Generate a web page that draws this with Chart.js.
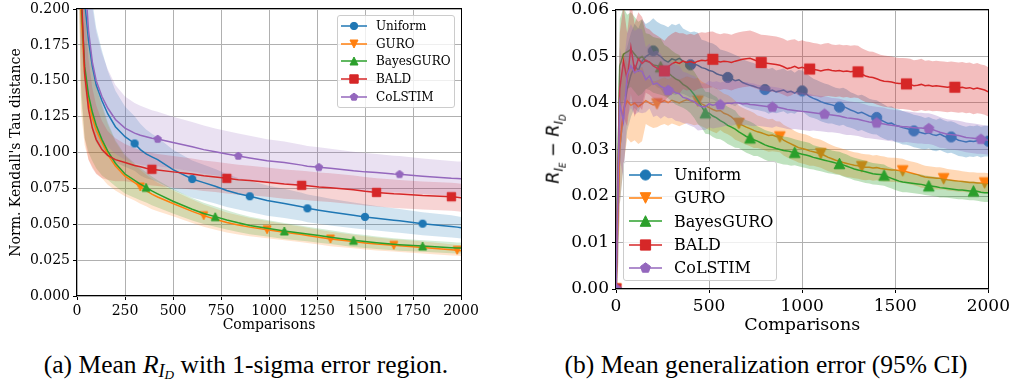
<!DOCTYPE html>
<html>
<head>
<meta charset="utf-8">
<script src="https://cdn.jsdelivr.net/npm/chart.js@4.4.0/dist/chart.umd.min.js"></script>
<style>
  body { margin: 0; background: #fff; width: 1013px; height: 381px; overflow: hidden; position: relative; font-family: 'DejaVu Serif', serif; }
  canvas.plot { position: absolute; }
  .legend { position: absolute; background: rgba(255,255,255,0.8); border: 1px solid #cccccc; border-radius: 3px; box-sizing: border-box; }
  .legend .row { display: flex; align-items: center; white-space: nowrap; }
  .legend canvas { display: block; }
  .caption { position: absolute; top: 351px; font-family: 'Liberation Serif', 'Times New Roman', serif; font-size: 25.5px; line-height: 28px; text-align: center; white-space: nowrap; }
  .caption .s1 { font-size: 72%; vertical-align: -0.2em; }
  .caption .s1 .s1 { vertical-align: -0.15em; }
  .ytitle { position: absolute; font-family: 'DejaVu Sans', sans-serif; font-style: italic; font-size: 17.5px; white-space: nowrap; transform: translate(-50%, -50%) rotate(-90deg); }
  .ytitle .s1 { font-size: 70%; vertical-align: -0.32em; }
</style>
</head>
<body>
<canvas id="left" class="plot" width="490" height="355" style="left:0px;top:-10px;width:490px;height:355px"></canvas>
<canvas id="right" class="plot" width="483" height="355" style="left:530px;top:-10px;width:483px;height:355px"></canvas>
<div id="leftLegend" class="legend" style="left:337px;top:15px;width:118px;height:93px;padding-top:1px"></div>
<div id="rightLegend" class="legend" style="left:623px;top:161px;width:154px;height:120px;padding-top:1px"></div>
<div class="ytitle" style="left:555px;top:149px">R<span class="s1">I<span class="s1">E</span></span> − R<span class="s1">I<span class="s1">D</span></span></div>
<div class="caption" style="left:0px;width:492px">(a) Mean <i>R</i><span class="s1"><i>I</i><span class="s1"><i>D</i></span></span> with 1-sigma error region.</div>
<div class="caption" style="left:520px;width:492px">(b) Mean generalization error (95% CI)</div>
<script>
const names = ['Uniform', 'GURO', 'BayesGURO', 'BALD', 'CoLSTIM'];
const colors = ['#1f77b4', '#ff7f0e', '#2ca02c', '#d62728', '#9467bd'];
const rgb = ['31,119,180', '255,127,14', '44,160,44', '214,39,40', '148,103,189'];
const shapes = ['circle', 'down', 'up', 'square', 'pentagon'];

// (a) normalized Kendall tau distance, mean and 1-sigma
const kendallX = [0,20,40,60,80,100,130,160,200,250,300,330,360,390,420,500,600,660,720,780,840,900,990,1080,1170,1200,1260,1320,1440,1500,1560,1650,1680,1800,1950,1980,2000];
const kendallUniform = [0.40,0.26,0.205,0.178,0.160,0.147,0.136,0.127,0.118,0.111,0.1063,0.102,0.099,0.097,0.095,0.088,0.0815,0.079,0.0765,0.0735,0.0712,0.0695,0.0665,0.0645,0.0622,0.0611,0.0598,0.0585,0.0562,0.0551,0.0542,0.0528,0.0524,0.0504,0.0485,0.048,0.0476];
const kendallGuro = [0.40,0.20,0.155,0.135,0.124,0.1155,0.107,0.0985,0.0905,0.0835,0.079,0.076,0.0735,0.071,0.069,0.0645,0.059,0.056,0.0535,0.0512,0.0495,0.048,0.0462,0.0445,0.0428,0.0422,0.041,0.0397,0.038,0.037,0.0362,0.0353,0.035,0.0338,0.0322,0.0318,0.0316];
const kendallBayesGuro = [0.40,0.21,0.16,0.14,0.128,0.119,0.109,0.101,0.0925,0.085,0.0805,0.078,0.0757,0.0732,0.0712,0.066,0.0605,0.0575,0.0553,0.053,0.051,0.0492,0.0472,0.0453,0.0437,0.0432,0.0421,0.041,0.0388,0.038,0.0371,0.036,0.0357,0.0348,0.0337,0.0335,0.0334];
const kendallBald = [0.40,0.22,0.155,0.13,0.117,0.109,0.102,0.098,0.095,0.093,0.091,0.090,0.089,0.0883,0.0878,0.0865,0.085,0.0838,0.083,0.082,0.081,0.0805,0.0793,0.078,0.0771,0.0768,0.076,0.0755,0.074,0.073,0.0722,0.0712,0.071,0.070,0.0692,0.0688,0.0685];
const kendallColstim = [0.40,0.30,0.225,0.185,0.163,0.150,0.139,0.131,0.123,0.117,0.1135,0.112,0.111,0.110,0.1094,0.107,0.104,0.102,0.1005,0.099,0.0976,0.0962,0.0942,0.093,0.0912,0.0905,0.0897,0.089,0.0872,0.0865,0.086,0.085,0.0848,0.0835,0.082,0.0818,0.0817];
const kendallUniformSd = [0.10,0.08,0.06,0.05,0.045,0.04,0.035,0.03,0.025,0.021,0.019,0.018,0.017,0.016,0.0155,0.014,0.013,0.0125,0.012,0.0115,0.011,0.011,0.0105,0.0102,0.0098,0.0097,0.0095,0.0093,0.009,0.0088,0.0086,0.0084,0.0083,0.008,0.0077,0.0076,0.0075];
const kendallGuroSd = [0.10,0.07,0.05,0.04,0.034,0.03,0.025,0.021,0.017,0.014,0.0125,0.0118,0.011,0.0105,0.010,0.009,0.0082,0.0078,0.0074,0.007,0.0067,0.0064,0.006,0.0057,0.0054,0.0053,0.0051,0.005,0.0047,0.0046,0.0045,0.0043,0.0043,0.0041,0.0039,0.0038,0.0038];
const kendallBayesGuroSd = [0.10,0.07,0.05,0.04,0.034,0.03,0.025,0.02,0.016,0.0135,0.012,0.0112,0.0105,0.01,0.0095,0.0085,0.0078,0.0074,0.007,0.0067,0.0064,0.0061,0.0058,0.0055,0.0052,0.0051,0.005,0.0048,0.0046,0.0045,0.0044,0.0042,0.0042,0.004,0.0039,0.0038,0.0038];
const kendallBaldSd = [0.10,0.07,0.045,0.035,0.028,0.024,0.02,0.017,0.015,0.013,0.012,0.0118,0.0115,0.0113,0.0112,0.011,0.0108,0.0107,0.0106,0.0105,0.0104,0.0103,0.0102,0.0102,0.0101,0.0101,0.01,0.01,0.01,0.01,0.0099,0.0099,0.0099,0.0098,0.0098,0.0098,0.0098];
const kendallColstimSd = [0.10,0.08,0.06,0.045,0.038,0.034,0.03,0.027,0.024,0.022,0.021,0.0205,0.02,0.0195,0.019,0.018,0.0172,0.0168,0.0163,0.016,0.0157,0.0154,0.015,0.0146,0.0142,0.0141,0.0139,0.0137,0.0133,0.0131,0.013,0.0128,0.0127,0.0124,0.0121,0.012,0.012];
const kendallMarkEvery = [300, 330, 360, 390, 420];

// (b) generalization error, mean every 20 comparisons, 95% CI half width every 100
const genStep = 20;
const genUniform = [0.000,0.030,0.038,0.043,0.046,0.048,0.047,0.049,0.050,0.0505,
  0.0512,0.0505,0.0500,0.0492,0.0488,0.0495,0.0492,0.0496,0.0490,0.0486,
  0.0482,0.0484,0.0481,0.0476,0.0474,0.0470,0.0468,0.0463,0.0460,0.0458,
  0.0455,0.0452,0.0448,0.0450,0.0444,0.0441,0.0438,0.0436,0.0433,0.0431,
  0.0429,0.0425,0.0428,0.0424,0.0426,0.0428,0.0423,0.0425,0.0421,0.0427,
  0.0426,0.0420,0.0414,0.0410,0.0407,0.0403,0.0400,0.0398,0.0396,0.0393,
  0.0391,0.0393,0.0389,0.0385,0.0382,0.0378,0.0380,0.0376,0.0372,0.0370,
  0.0369,0.0364,0.0360,0.0356,0.0357,0.0352,0.0350,0.0347,0.0345,0.0343,
  0.0340,0.0338,0.0336,0.0334,0.0336,0.0332,0.0330,0.0333,0.0329,0.0326,
  0.0327,0.0324,0.0320,0.0318,0.0316,0.0318,0.0317,0.0319,0.0316,0.0318,
  0.0318];
const genGuro = [0.000,0.030,0.0385,0.0405,0.0395,0.0400,0.0392,0.0398,0.0405,0.0400,
  0.0396,0.0398,0.0402,0.0405,0.0401,0.0406,0.0403,0.0400,0.0404,0.0407,
  0.0405,0.0402,0.0404,0.0398,0.0394,0.0390,0.0386,0.0383,0.0384,0.0378,
  0.0375,0.0370,0.0363,0.0356,0.0352,0.0348,0.0345,0.0341,0.0338,0.0336,
  0.0333,0.0330,0.0331,0.0328,0.0327,0.0320,0.0316,0.0312,0.0308,0.0304,
  0.0302,0.0300,0.0297,0.0295,0.0293,0.0291,0.0287,0.0283,0.0280,0.0277,
  0.0275,0.0272,0.0270,0.0268,0.0266,0.0265,0.0263,0.0262,0.0262,0.0260,
  0.0261,0.0259,0.0258,0.0257,0.0256,0.0256,0.0255,0.0254,0.0252,0.0250,
  0.0248,0.0246,0.0243,0.0241,0.0240,0.0239,0.0238,0.0238,0.0237,0.0235,
  0.0234,0.0233,0.0232,0.0231,0.0230,0.0229,0.0229,0.0228,0.0228,0.0228,
  0.0227];
const genBayesGuro = [0.000,0.048,0.0505,0.051,0.0515,0.0505,0.0495,0.0500,0.0490,0.0488,
  0.0482,0.0480,0.0478,0.0470,0.0465,0.0458,0.0452,0.0448,0.0440,0.0435,
  0.0428,0.0418,0.0405,0.0392,0.0379,0.0378,0.0372,0.0368,0.0362,0.0358,
  0.0352,0.0348,0.0344,0.0338,0.0333,0.0328,0.0325,0.0321,0.0318,0.0314,
  0.0310,0.0307,0.0305,0.0302,0.0300,0.0298,0.0297,0.0295,0.0294,0.0292,
  0.0290,0.0288,0.0286,0.0283,0.0281,0.0279,0.0277,0.0275,0.0273,0.0271,
  0.0270,0.0267,0.0264,0.0261,0.0258,0.0256,0.0254,0.0252,0.0250,0.0248,
  0.0247,0.0246,0.0245,0.0241,0.0238,0.0235,0.0232,0.0230,0.0229,0.0228,
  0.0227,0.0226,0.0225,0.0223,0.0222,0.0221,0.0220,0.0218,0.0217,0.0216,
  0.0215,0.0214,0.0213,0.0213,0.0212,0.0211,0.0211,0.0210,0.0208,0.0207,
  0.0207];
const genBald = [0.000,0.043,0.049,0.0450,0.0520,0.0470,0.0495,0.0485,0.0492,0.0488,
  0.0480,0.0475,0.0470,0.0469,0.0478,0.0484,0.0488,0.0485,0.0490,0.0487,
  0.0489,0.0486,0.0490,0.0492,0.0491,0.0493,0.0494,0.0490,0.0488,0.0490,
  0.0489,0.0487,0.0490,0.0492,0.0494,0.0495,0.0496,0.0493,0.0490,0.0487,
  0.0486,0.0485,0.0484,0.0483,0.0481,0.0478,0.0474,0.0476,0.0479,0.0475,
  0.0477,0.0474,0.0473,0.0472,0.0471,0.0469,0.0471,0.0472,0.0470,0.0469,
  0.0470,0.0468,0.0469,0.0467,0.0468,0.0467,0.0462,0.0458,0.0456,0.0455,
  0.0452,0.0449,0.0447,0.0446,0.0445,0.0443,0.0442,0.0442,0.0441,0.0440,
  0.0437,0.0438,0.0440,0.0437,0.0438,0.0436,0.0437,0.0436,0.0435,0.0434,
  0.0435,0.0434,0.0433,0.0434,0.0432,0.0433,0.0430,0.0432,0.0430,0.0428,
  0.0424];
const genColstim = [0.000,0.040,0.036,0.046,0.048,0.0465,0.0470,0.0468,0.0450,0.0458,
  0.0440,0.0443,0.0436,0.0432,0.0427,0.0428,0.0422,0.0420,0.0412,0.0410,
  0.0406,0.0403,0.0396,0.0392,0.0392,0.0398,0.0395,0.0397,0.0396,0.0398,
  0.0400,0.0399,0.0401,0.0400,0.0398,0.0399,0.0397,0.0396,0.0395,0.0394,
  0.0393,0.0392,0.0391,0.0392,0.0390,0.0388,0.0386,0.0385,0.0384,0.0383,
  0.0382,0.0381,0.0380,0.0379,0.0378,0.0377,0.0376,0.0375,0.0374,0.0373,
  0.0372,0.0370,0.0368,0.0367,0.0366,0.0365,0.0363,0.0361,0.0359,0.0358,
  0.0357,0.0356,0.0355,0.0353,0.0352,0.0351,0.0350,0.0349,0.0349,0.0348,
  0.0347,0.0346,0.0346,0.0345,0.0345,0.0343,0.0340,0.0337,0.0335,0.0333,
  0.0332,0.0331,0.0330,0.0328,0.0326,0.0325,0.0324,0.0323,0.0322,0.0321,
  0.0320];
const ciStep = 100;
const genUniformCi = [0.012,0.009,0.007,0.0075,0.007,0.006,0.0055,0.005,0.0048,0.0046,0.0044,0.0042,0.0040,0.0038,0.0037,0.0036,0.0035,0.0034,0.0034,0.0033,0.0033];
const genGuroCi = [0.012,0.008,0.005,0.005,0.005,0.0048,0.0042,0.0038,0.0035,0.0033,0.0032,0.0030,0.0029,0.0028,0.0027,0.0026,0.0025,0.0024,0.0023,0.0022,0.0022];
const genBayesGuroCi = [0.010,0.008,0.006,0.0055,0.005,0.0045,0.004,0.0035,0.0032,0.003,0.0028,0.0026,0.0025,0.0024,0.0023,0.0022,0.0021,0.0021,0.002,0.002,0.002];
const genBaldCi = [0.012,0.010,0.007,0.0065,0.006,0.006,0.006,0.006,0.006,0.006,0.0058,0.0057,0.0056,0.0056,0.0055,0.0055,0.0055,0.0054,0.0054,0.0054,0.0053];
const genColstimCi = [0.012,0.009,0.007,0.006,0.0055,0.005,0.0048,0.0046,0.0044,0.0042,0.004,0.0038,0.0037,0.0036,0.0035,0.0034,0.0033,0.0033,0.0032,0.0032,0.0031];
const genMarkEvery = [200, 220, 240, 260, 280];

// matplotlib-ish markers drawn on a 2d context
const drawMarker = function(ctx, shape, x, y, r, color) {
  ctx.fillStyle = color;
  ctx.strokeStyle = color;
  ctx.lineWidth = 1;
  ctx.beginPath();
  if (shape === 'circle') {
    ctx.arc(x, y, r, 0, Math.PI * 2);
  } else if (shape === 'square') {
    ctx.rect(x - r, y - r, 2 * r, 2 * r);
  } else if (shape === 'up') {
    ctx.moveTo(x, y - r); ctx.lineTo(x + r, y + r); ctx.lineTo(x - r, y + r); ctx.closePath();
  } else if (shape === 'down') {
    ctx.moveTo(x, y + r); ctx.lineTo(x + r, y - r); ctx.lineTo(x - r, y - r); ctx.closePath();
  } else {
    for (let k = 0; k < 5; k++) {
      const a = -Math.PI / 2 + k * 2 * Math.PI / 5;
      ctx.lineTo(x + r * Math.cos(a), y + r * Math.sin(a));
    }
    ctx.closePath();
  }
  ctx.fill();
  ctx.stroke();
}

const markerImage = function(shape, r, color) {
  const s = Math.ceil(2 * r + 4);
  const c = document.createElement('canvas');
  c.width = s; c.height = s;
  drawMarker(c.getContext('2d'), shape, s / 2, s / 2, r, color);
  return c;
}

const buildLegend = function(id, o) {
  const box = document.getElementById(id);
  for (let i = 0; i < names.length; i++) {
    const row = document.createElement('div');
    row.className = 'row';
    row.style.height = o.rowH + 'px';
    const icon = document.createElement('canvas');
    icon.width = o.iconW; icon.height = o.iconH;
    icon.style.marginLeft = o.iconLeft + 'px';
    const ctx = icon.getContext('2d');
    ctx.strokeStyle = colors[i];
    ctx.lineWidth = 1.5;
    ctx.beginPath();
    ctx.moveTo(0, o.iconH / 2);
    ctx.lineTo(o.iconW, o.iconH / 2);
    ctx.stroke();
    drawMarker(ctx, shapes[i], o.iconW / 2, o.iconH / 2, o.sizes[i], colors[i]);
    const label = document.createElement('span');
    label.textContent = names[i];
    label.style.marginLeft = o.gap + 'px';
    label.style.fontSize = o.font + 'px';
    row.appendChild(icon);
    row.appendChild(label);
    box.appendChild(row);
  }
}

const frame = {
  id: 'frame',
  afterDatasetsDraw(chart) {
    const {ctx, chartArea: a} = chart;
    ctx.save();
    ctx.strokeStyle = '#000';
    ctx.lineWidth = 1;
    ctx.strokeRect(Math.round(a.left) - 0.5, Math.round(a.top) - 0.5, Math.round(a.right - a.left) + 1, Math.round(a.bottom - a.top));
    ctx.restore();
  }
}

const lineSet = function(label, pts, color, img, step, order) {
  return {
    label: label,
    data: pts,
    borderColor: color,
    backgroundColor: color,
    borderWidth: 1.5,
    fill: false,
    tension: 0,
    pointStyle: img,
    pointRadius: c => (c.raw && c.raw.x % step === 0) ? 1 : 0,
    pointBorderWidth: 0,
    pointHoverRadius: 0,
    order: order
  };
}

const bandSets = function(hiPts, loPts, fillColor, order) {
  return [
    { label: '', data: hiPts, borderColor: 'transparent', borderWidth: 0, pointRadius: 0, fill: false, order: order },
    { label: '', data: loPts, borderColor: 'transparent', borderWidth: 0, pointRadius: 0, fill: '-1', backgroundColor: fillColor, order: order }
  ];
}

const axisOpts = function(o) {
  return {
    type: 'linear',
    min: o.min, max: o.max,
    grid: { color: '#b0b0b0', lineWidth: 1, drawTicks: true, tickLength: 4, tickColor: '#000', tickWidth: 1 },
    border: { display: false },
    ticks: {
      stepSize: o.step, autoSkip: false, maxRotation: 0, padding: 3, color: '#000',
      font: { family: 'DejaVu Serif', size: o.font },
      callback: v => v.toFixed(o.digits)
    },
    title: o.title ? { display: true, text: o.title, color: '#000', font: { family: 'DejaVu Serif', size: o.titleFont }, padding: o.titlePad } : { display: false },
    afterFit: o.fit
  };
}

// ---- (a)
const kendallMeans = [kendallUniform, kendallGuro, kendallBayesGuro, kendallBald, kendallColstim];
const kendallSds = [kendallUniformSd, kendallGuroSd, kendallBayesGuroSd, kendallBaldSd, kendallColstimSd];
const leftSizes = [3.7, 4, 4, 4.2, 3.9];
let leftSets = [];
for (let i = 0; i < 5; i++) {
  const hi = kendallX.map((x, j) => ({x: x, y: kendallMeans[i][j] + kendallSds[i][j]}));
  const lo = kendallX.map((x, j) => ({x: x, y: kendallMeans[i][j] - kendallSds[i][j]}));
  leftSets = leftSets.concat(bandSets(hi, lo, `rgba(${rgb[i]},0.2)`, 20 - i));
}
for (let i = 0; i < 5; i++) {
  const pts = kendallX.map((x, j) => ({x: x, y: kendallMeans[i][j]}));
  leftSets.push(lineSet(names[i], pts, colors[i], markerImage(shapes[i], leftSizes[i], colors[i]), kendallMarkEvery[i], 10 - i));
}

new Chart(document.getElementById('left'), {
  type: 'line',
  data: { datasets: leftSets },
  options: {
    responsive: false, animation: false, devicePixelRatio: 1, events: [],
    layout: { padding: { left: 0, top: 19, right: 29, bottom: 0 } },
    plugins: { legend: { display: false }, tooltip: { enabled: false } },
    scales: {
      x: axisOpts({ min: 0, max: 2000, step: 250, digits: 0, font: 14, title: 'Comparisons', titleFont: 14, titlePad: { top: 0, bottom: 11 }, fit: s => { s.height = 49; } }),
      y: axisOpts({ min: 0, max: 0.2, step: 0.025, digits: 3, font: 14, title: "Norm. Kendall's Tau distance", titleFont: 14, titlePad: { top: 7.6, bottom: 0 }, fit: s => { s.width = 77; } })
    }
  },
  plugins: [frame]
});

// ---- (b)
const genMeans = [genUniform, genGuro, genBayesGuro, genBald, genColstim];
const genCis = [genUniformCi, genGuroCi, genBayesGuroCi, genBaldCi, genColstimCi];
const rightSizes = [5.1, 5.3, 5.3, 5.1, 5.2];
let rightSets = [];
for (let i = 0; i < 5; i++) {
  const pts = genMeans[i].map((v, j) => ({x: j * genStep, y: v}));
  const ci = j => genCis[i][Math.round(j * genStep / ciStep)];
  const hi = genMeans[i].map((v, j) => ({x: j * genStep, y: v + ci(j)}));
  const lo = genMeans[i].map((v, j) => ({x: j * genStep, y: v - ci(j)}));
  rightSets.push(lineSet(names[i], pts, colors[i], markerImage(shapes[i], rightSizes[i], colors[i]), genMarkEvery[i], 100 - 2 * i));
  rightSets = rightSets.concat(bandSets(hi, lo, `rgba(${rgb[i]},0.3)`, 99 - 2 * i));
}

new Chart(document.getElementById('right'), {
  type: 'line',
  data: { datasets: rightSets },
  options: {
    responsive: false, animation: false, devicePixelRatio: 1, events: [],
    layout: { padding: { left: 0, top: 20, right: 24, bottom: 0 } },
    plugins: { legend: { display: false }, tooltip: { enabled: false } },
    scales: {
      x: axisOpts({ min: 0, max: 2000, step: 500, digits: 0, font: 17, title: 'Comparisons', titleFont: 17.5, titlePad: { top: 0, bottom: 9.5 }, fit: s => { s.height = 56; } }),
      y: axisOpts({ min: 0, max: 0.06, step: 0.01, digits: 2, font: 17, title: null, fit: s => { s.width = 86; } })
    }
  },
  plugins: [frame]
});

buildLegend('leftLegend', { rowH: 17.8, iconW: 26, iconH: 12, iconLeft: 3, gap: 9, font: 12, sizes: [3.7, 4, 4, 4.2, 3.9] });
buildLegend('rightLegend', { rowH: 23.3, iconW: 33, iconH: 14, iconLeft: 5, gap: 12, font: 16, sizes: [5.1, 5.3, 5.3, 5.1, 5.2] });
</script>
</body>
</html>
